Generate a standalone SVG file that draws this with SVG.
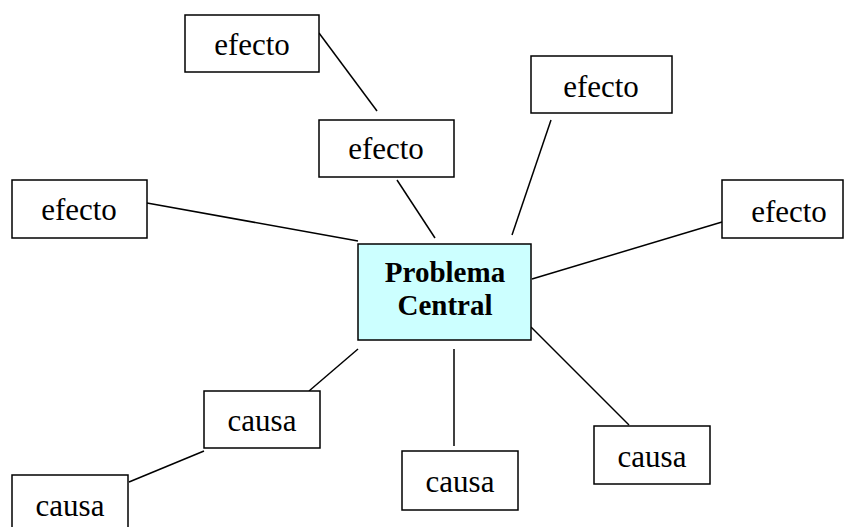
<svg xmlns="http://www.w3.org/2000/svg" width="845" height="527" viewBox="0 0 845 527">
<style>
.box{fill:#fff;stroke:#000;stroke-width:1.5}
.core{fill:#ccffff;stroke:#000;stroke-width:1.5}
.t{font-family:"Liberation Serif","Times New Roman",serif;font-size:31px;text-anchor:middle;fill:#000}
.b{font-family:"Liberation Serif","Times New Roman",serif;font-size:29px;font-weight:bold;text-anchor:middle;fill:#000}
.c line{stroke:#000;stroke-width:1.5}
</style>
<rect width="845" height="527" fill="#fff"/>
<g class="c" id="connectors">
<line x1="319" y1="33" x2="377" y2="111"/>
<line x1="397" y1="180" x2="435" y2="238"/>
<line x1="551" y1="120" x2="512" y2="235"/>
<line x1="147" y1="203" x2="358" y2="241"/>
<line x1="722" y1="222" x2="532" y2="279"/>
<line x1="358" y1="349" x2="309" y2="391"/>
<line x1="204" y1="451" x2="129" y2="482"/>
<line x1="454" y1="349" x2="454" y2="446"/>
<line x1="531" y1="327" x2="629" y2="425"/>
</g>
<g id="central"><rect class="core" x="358" y="244" width="173" height="96"/><text class="b" x="445" y="282">Problema</text><text class="b" x="445" y="315">Central</text></g>
<g id="efecto1"><rect class="box" x="185" y="15" width="134" height="57"/><text class="t" x="252" y="55">efecto</text></g>
<g id="efecto2"><rect class="box" x="319" y="120" width="135" height="57"/><text class="t" x="386" y="159">efecto</text></g>
<g id="efecto3"><rect class="box" x="531" y="56" width="141" height="57"/><text class="t" x="601" y="97">efecto</text></g>
<g id="efecto4"><rect class="box" x="12" y="180" width="135" height="58"/><text class="t" x="79" y="220">efecto</text></g>
<g id="efecto5"><rect class="box" x="722" y="180" width="121" height="58"/><text class="t" x="789" y="222">efecto</text></g>
<g id="causa1"><rect class="box" x="204" y="391" width="116" height="57"/><text class="t" x="262" y="431">causa</text></g>
<g id="causa2"><rect class="box" x="12" y="475" width="116" height="60"/><text class="t" x="70" y="516">causa</text></g>
<g id="causa3"><rect class="box" x="402" y="451" width="116" height="59"/><text class="t" x="460" y="492">causa</text></g>
<g id="causa4"><rect class="box" x="594" y="426" width="116" height="58"/><text class="t" x="652" y="467">causa</text></g>
</svg>
